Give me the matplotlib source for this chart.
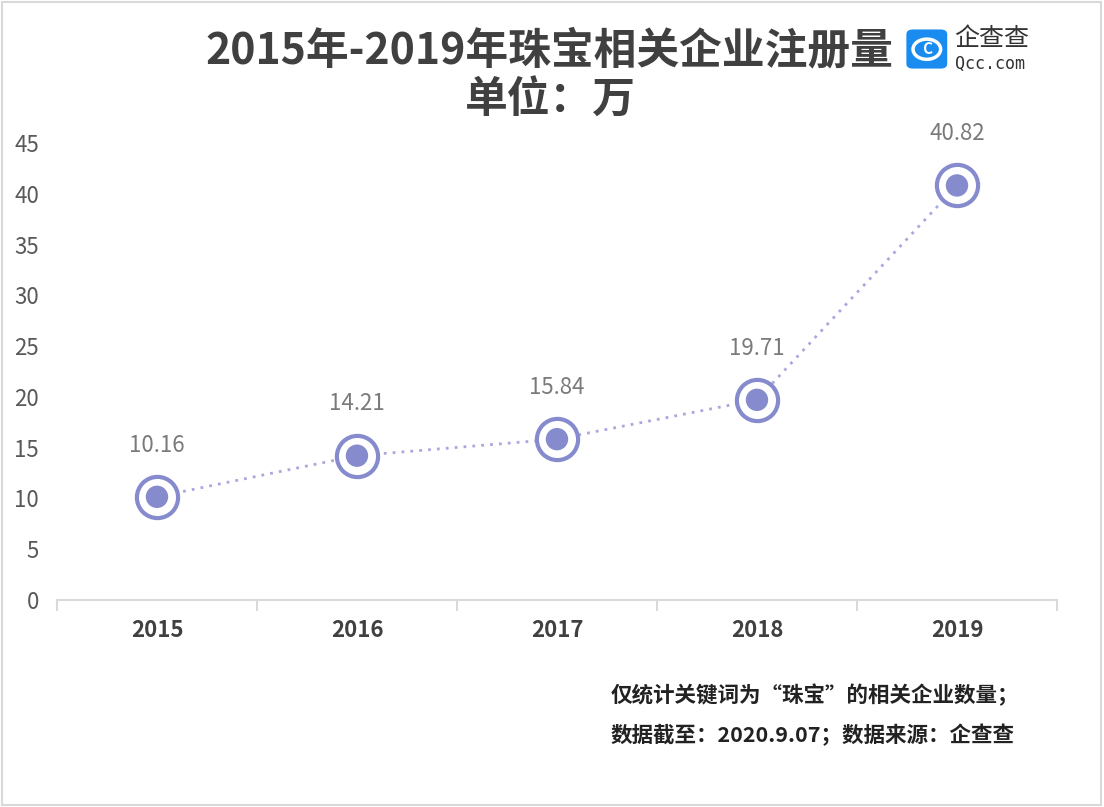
import matplotlib.pyplot as plt
from matplotlib.patches import FancyBboxPatch, Rectangle, Circle

plt.rcParams['font.family'] = ['Noto Sans CJK SC', 'DejaVu Sans']

years = ['2015', '2016', '2017', '2018', '2019']
counts = [10.16, 14.21, 15.84, 19.71, 40.82]
yticks = [0, 5, 10, 15, 20, 25, 30, 35, 40, 45]

line_col = '#a9a7de'
mark_col = '#868bcd'

fig = plt.figure(figsize=(11.04, 8.07), dpi=100)
ax = fig.add_axes([0.0516, 0.2565, 0.9058, 0.5663])

x = list(range(len(years)))
ax.plot(x, counts, linestyle=(0, (1, 2.2)), linewidth=2, color=line_col, zorder=2)
ax.scatter(x, counts, s=880, facecolor='white', edgecolor=mark_col, linewidth=3, zorder=3)
ax.scatter(x, counts, s=260, facecolor=mark_col, edgecolor='none', zorder=4)

for xi, v in zip(x, counts):
    ax.annotate(f'{v:.2f}', (xi, v), xytext=(0, 29), textcoords='offset points',
                ha='center', va='bottom', fontsize=16, color='#7a7a7a', fontweight='medium')

ax.set_xlim(-0.5, len(years) - 0.5)
ax.set_ylim(0, 45)
ax.set_yticks(yticks)
ax.set_yticklabels([str(t) for t in yticks], fontsize=16, color='#595959')
ax.set_xticks(x)
ax.set_xticklabels(years, fontsize=16, color='#404040', fontweight='bold')
ax.set_xticks([i - 0.5 for i in range(len(years) + 1)], minor=True)
ax.tick_params(axis='y', length=0, pad=13)
ax.tick_params(axis='x', which='major', length=0, pad=14)
ax.tick_params(axis='x', which='minor', length=8, color='#d9d9d9', width=1.5)
for s in ['top', 'right', 'left']:
    ax.spines[s].set_visible(False)
ax.spines['bottom'].set_color('#d9d9d9')
ax.spines['bottom'].set_linewidth(1.5)

fig.text(0.4975, 0.938, '2015年-2019年珠宝相关企业注册量', ha='center', va='center',
         fontsize=30.8, fontweight='bold', color='#404040')
fig.text(0.499, 0.876, '单位：万', ha='center', va='center',
         fontsize=30.8, fontweight='bold', color='#404040')

# logo
fig.patches.append(FancyBboxPatch((0.823, 0.917), 0.033, 0.0445,
                                  boxstyle='round,pad=0.002,rounding_size=0.006',
                                  transform=fig.transFigure, facecolor='#1a8cf0',
                                  edgecolor='none'))
fig.patches.append(Circle((0.8395, 0.939), 0.0125, transform=fig.transFigure,
                          fill=False, edgecolor='white', linewidth=2.5))
fig.text(0.8395, 0.939, 'C', ha='center', va='center', fontsize=11,
         fontweight='bold', color='white')
fig.text(0.864, 0.952, '企查查', ha='left', va='center', fontsize=18, color='#333333')
fig.text(0.865, 0.921, 'Qcc.com', ha='left', va='center', fontsize=12,
         color='#333333', family='DejaVu Sans Mono')

fig.text(0.553, 0.139, '仅统计关键词为“珠宝”的相关企业数量；', ha='left', va='center',
         fontsize=15.5, fontweight='bold', color='#222222')
fig.text(0.553, 0.089, '数据截至：2020.9.07；数据来源：企查查', ha='left', va='center',
         fontsize=15.5, fontweight='bold', color='#222222')

fig.patches.append(Rectangle((0.002, 0.003), 0.995, 0.994, transform=fig.transFigure,
                             fill=False, edgecolor='#d9d9d9', linewidth=1.5))

fig.savefig('out.png', dpi=100)
